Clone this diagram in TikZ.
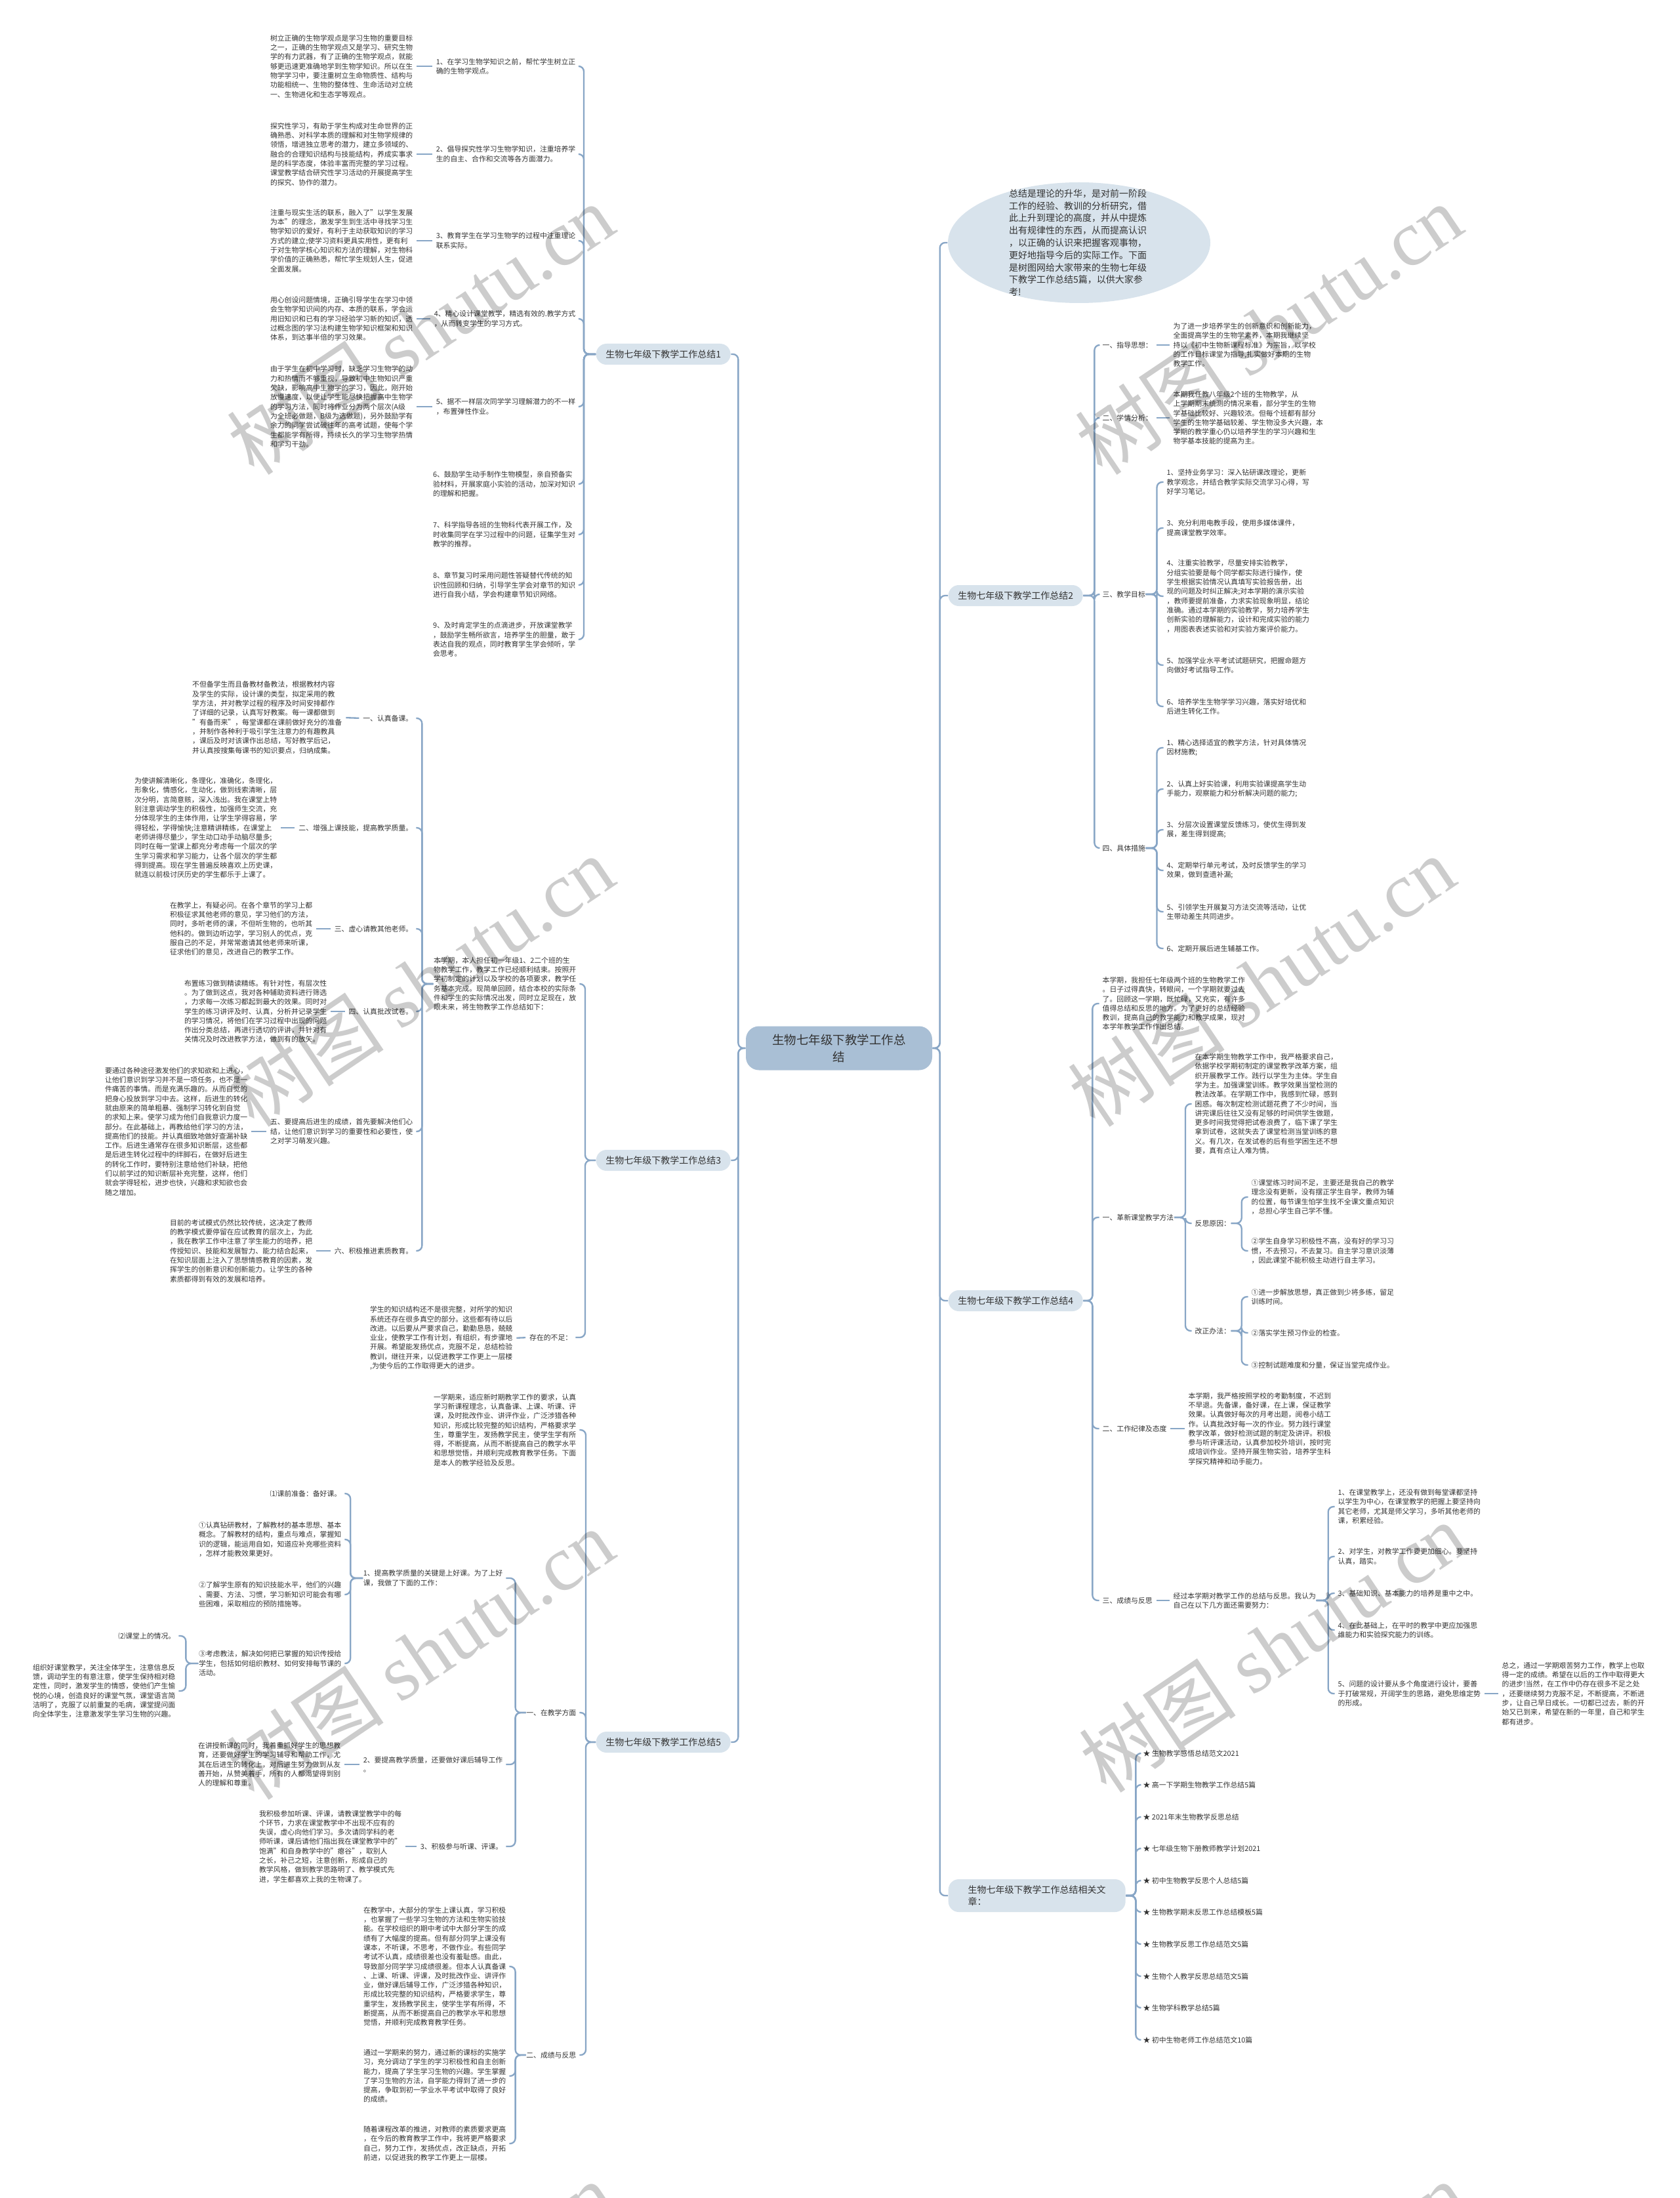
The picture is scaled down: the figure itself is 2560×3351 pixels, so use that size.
\documentclass[tikz,border=0pt]{standalone}
\usepackage{fontspec}
\setmainfont{Noto Sans CJK SC}
\newfontfamily\wmserif{Liberation Serif}
\usetikzlibrary{shapes.geometric}
\definecolor{linec}{HTML}{88A6C6}
\definecolor{nodefill}{HTML}{D8E3EC}
\definecolor{centerfill}{HTML}{A9BFD5}
\definecolor{txt}{HTML}{333333}
\newcommand\fleaf{\fontsize{3.26pt}{4.29pt}\selectfont}
\newcommand\fbranch{\fontsize{4.2pt}{5.6pt}\selectfont}
\newcommand\fcenter{\fontsize{5.55pt}{7.8pt}\selectfont}
\newcommand\fbubble{\fontsize{4.2pt}{5.64pt}\selectfont}
\newcommand\fwm{\fontsize{36pt}{40pt}\selectfont}
\tikzset{
  leaf/.style={inner sep=0pt, align=left, font=\fleaf, text=txt},
  conn/.style={draw=linec, line width=0.7pt, rounded corners=2.4pt},
  bconn/.style={conn, shorten >=1.3pt},
  dashc/.style={draw=linec, line width=0.7pt, shorten <=1.6pt, shorten >=1.6pt},
  branch/.style={fill=nodefill, rounded corners=4.8pt, minimum width=61.5pt, minimum height=9.6pt, inner sep=0pt, font=\fbranch, text=txt},
  centernode/.style={fill=centerfill, rounded corners=6pt, minimum width=85.2pt, minimum height=20.1pt, inner sep=0pt, font=\fcenter, text=txt, align=center},
  wm/.style={rotate=34, font=\fwm, text=black, text opacity=0.2, inner sep=0pt}
}
\begin{document}
\begin{tikzpicture}[x=0.3pt,y=-0.3pt]
\useasboundingbox (0,0) rectangle (2560,3351);
\fill[white] (0,0) rectangle (2560,3351);

% ---------------- center ----------------
\node[centernode] (C) at (1279,1598) {生物七年级下教学工作总\\结};

% ---------------- branch 1 ----------------
\node[branch,anchor=west] (B1) at (908,540) {生物七年级下教学工作总结1};
\node[leaf,anchor=east] (a1) at (878,101) {1、在学习生物学知识之前，帮忙学生树立正\\确的生物学观点。};
\node[leaf,anchor=east] (a2) at (878,235) {2、倡导探究性学习生物学知识，注重培养学\\生的自主、合作和交流等各方面潜力。};
\node[leaf,anchor=east] (a3) at (878,367) {3、教育学生在学习生物学的过程中注重理论\\联系实际。};
\node[leaf,anchor=east] (a4) at (878,486) {4、精心设计课堂教学，精选有效的.教学方式\\，从而转变学生的学习方式。};
\node[leaf,anchor=east] (a5) at (878,620) {5、据不一样层次同学学习理解潜力的不一样\\，布置弹性作业。};
\node[leaf,anchor=east] (a6) at (878,738) {6、鼓励学生动手制作生物模型，亲自预备实\\验材料，开展家庭小实验的活动，加深对知识\\的理解和把握。};
\node[leaf,anchor=east] (a7) at (878,815) {7、科学指导各班的生物科代表开展工作，及\\时收集同学在学习过程中的问题，征集学生对\\教学的推荐。};
\node[leaf,anchor=east] (a8) at (878,892) {8、章节复习时采用问题性答疑替代传统的知\\识性回顾和归纳，引导学生学会对章节的知识\\进行自我小结，学会构建章节知识网络。};
\node[leaf,anchor=east] (a9) at (878,975) {9、及时肯定学生的点滴进步，开放课堂教学\\，鼓励学生畅所欲言，培养学生的胆量，敢于\\表达自我的观点，同时教育学生学会倾听，学\\会思考。};
\node[leaf,anchor=east] (l1) at (630,101) {树立正确的生物学观点是学习生物的重要目标\\之一，正确的生物学观点又是学习、研究生物\\学的有力武器，有了正确的生物学观点，就能\\够更迅速更准确地学到生物学知识。所以在生\\物学学习中，要注重树立生命物质性、结构与\\功能相统一、生物的整体性、生命活动对立统\\一、生物进化和生态学等观点。};
\node[leaf,anchor=east] (l2) at (630,235) {探究性学习，有助于学生构成对生命世界的正\\确熟悉、对科学本质的理解和对生物学规律的\\领悟，增进独立思考的潜力，建立多领域的、\\融合的合理知识结构与技能结构，养成实事求\\是的科学态度，体验丰富而完整的学习过程。\\课堂教学结合研究性学习活动的开展提高学生\\的探究、协作的潜力。};
\node[leaf,anchor=east] (l3) at (630,367) {注重与现实生活的联系，融入了"以学生发展\\为本"的理念，激发学生到生活中寻找学习生\\物学知识的爱好，有利于主动获取知识的学习\\方式的建立;使学习资料更具实用性，更有利\\于对生物学核心知识和方法的理解，对生物科\\学价值的正确熟悉，帮忙学生规划人生，促进\\全面发展。};
\node[leaf,anchor=east] (l4) at (630,486) {用心创设问题情境，正确引导学生在学习中领\\会生物学知识间的内存、本质的联系，学会运\\用旧知识和已有的学习经验学习新的知识，透\\过概念图的学习法构建生物学知识框架和知识\\体系，到达事半倍的学习效果。};
\node[leaf,anchor=east] (l5) at (630,620) {由于学生在初中学习时，缺乏学习生物学的动\\力和热情而不够重视，导致初中生物知识严重\\欠缺，影响高中生物学的学习，因此，刚开始\\放慢速度，以便让学生能尽快把握高中生物学\\的学习方法，同时将作业分为两个层次(A级\\为全班必做题，B级为选做题)，另外鼓励学有\\余力的同学尝试破往年的高考试题，使每个学\\生都能学有所得，持续长久的学习生物学热情\\和学习干劲。};
\foreach \k in {1,...,9} {\draw[bconn] (B1.west) -- ++(-18,0) |- (a\k.east);}
\foreach \k in {1,...,5} {\draw[dashc] (a\k.west) -- (l\k.east);}

% ---------------- branch 3 ----------------
\node[branch,anchor=west] (B3) at (908,1769) {生物七年级下教学工作总结3};
\node[leaf,anchor=east] (b3i) at (879,1500) {本学期，本人担任初一年级1、2二个班的生\\物教学工作，教学工作已经顺利结束。按照开\\学初制定的计划以及学校的各项要求，教学任\\务基本完成。现简单回顾，结合本校的实际条\\件和学生的实际情况出发，同时立足现在，放\\眼未来，将生物教学工作总结如下：};
\node[leaf,anchor=east] (b3z) at (873,2039) {存在的不足：};
\node[leaf,anchor=east] (b3zl) at (782,2040) {学生的知识结构还不是很完整，对所学的知识\\系统还存在很多真空的部分。这些都有待以后\\改进。以后要从严要求自己，勤勤恳恳，兢兢\\业业，使教学工作有计划，有组织，有步骤地\\开展。希望能发扬优点，克服不足，总结检验\\教训，继往开来，以促进教学工作更上一层楼\\,为使今后的工作取得更大的进步。};
\draw[bconn] (B3.west) -- ++(-16,0) |- (b3i.east);
\draw[bconn] (B3.west) -- ++(-16,0) |- (b3z.east);
\draw[dashc] (b3z.west) -- (b3zl.east);

\node[leaf,anchor=east] (s1) at (630,1095) {一、认真备课。};
\node[leaf,anchor=east] (s2) at (630,1262) {二、增强上课技能，提高教学质量。};
\node[leaf,anchor=east] (s3) at (630,1416) {三、虚心请教其他老师。};
\node[leaf,anchor=east] (s4) at (630,1542) {四、认真批改试卷。};
\node[leaf,anchor=east] (s5) at (630,1725) {五、要提高后进生的成绩，首先要解决他们心\\结，让他们意识到学习的重要性和必要性，使\\之对学习萌发兴趣。};
\node[leaf,anchor=east] (s6) at (630,1907) {六、积极推进素质教育。};
\foreach \k in {1,...,6} {\draw[bconn] (b3i.west) -- ++(-17,0) |- (s\k.east);}

\node[leaf,anchor=east] (m1) at (522,1094) {不但备学生而且备教材备教法，根据教材内容\\及学生的实际，设计课的类型，拟定采用的教\\学方法，并对教学过程的程序及时间安排都作\\了详细的记录，认真写好教案。每一课都做到\\"有备而来"，每堂课都在课前做好充分的准备\\，并制作各种利于吸引学生注意力的有趣教具\\，课后及时对该课作出总结，写好教学后记，\\并认真按搜集每课书的知识要点，归纳成集。};
\node[leaf,anchor=east] (m2) at (423,1262) {为使讲解清晰化，条理化，准确化，条理化，\\形象化，情感化，生动化，做到线索清晰，层\\次分明，言简意赅，深入浅出。我在课堂上特\\别注意调动学生的积极性，加强师生交流，充\\分体现学生的主体作用，让学生学得容易，学\\得轻松，学得愉快;注意精讲精练，在课堂上\\老师讲得尽量少，学生动口动手动脑尽量多;\\同时在每一堂课上都充分考虑每一个层次的学\\生学习需求和学习能力，让各个层次的学生都\\得到提高。现在学生普遍反映喜欢上历史课，\\就连以前极讨厌历史的学生都乐于上课了。};
\node[leaf,anchor=east] (m3) at (477,1416) {在教学上，有疑必问。在各个章节的学习上都\\积极征求其他老师的意见，学习他们的方法，\\同时，多听老师的课，不但听生物的，也听其\\他科的。做到边听边学，学习别人的优点，克\\服自己的不足，并常常邀请其他老师来听课，\\征求他们的意见，改进自己的教学工作。};
\node[leaf,anchor=east] (m4) at (499,1542) {布置练习做到精读精练。有针对性，有层次性\\。为了做到这点，我对各种辅助资料进行筛选\\，力求每一次练习都起到最大的效果。同时对\\学生的练习讲评及时、认真，分析并记录学生\\的学习情况，将他们在学习过程中出现的问题\\作出分类总结，再进行透切的评讲，并针对有\\关情况及时改进教学方法，做到有的放矢。};
\node[leaf,anchor=east] (m5) at (378,1725) {要通过各种途径激发他们的求知欲和上进心，\\让他们意识到学习并不是一项任务，也不是一\\件痛苦的事情。而是充满乐趣的。从而自觉的\\把身心投放到学习中去。这样，后进生的转化\\就由原来的简单粗暴、强制学习转化到自觉\\的求知上来。使学习成为他们自我意识力度一\\部分。在此基础上，再教给他们学习的方法，\\提高他们的技能。并认真细致地做好查漏补缺\\工作。后进生通常存在很多知识断层，这些都\\是后进生转化过程中的绊脚石，在做好后进生\\的转化工作时，要特别注意给他们补缺，把他\\们以前学过的知识断层补充完整，这样，他们\\就会学得轻松，进步也快，兴趣和求知欲也会\\随之增加。};
\node[leaf,anchor=east] (m6) at (477,1907) {目前的考试模式仍然比较传统，这决定了教师\\的教学模式要停留在应试教育的层次上，为此\\，我在教学工作中注意了学生能力的培养，把\\传授知识、技能和发展智力、能力结合起来，\\在知识层面上注入了思想情感教育的因素，发\\挥学生的创新意识和创新能力。让学生的各种\\素质都得到有效的发展和培养。};
\foreach \k in {1,...,6} {\draw[dashc] (s\k.west) -- (m\k.east);}

% ---------------- branch 5 ----------------
\node[branch,anchor=west] (B5) at (908,2656) {生物七年级下教学工作总结5};
\node[leaf,anchor=east] (b5i) at (879,2180) {一学期来，适应新时期教学工作的要求，认真\\学习新课程理念，认真备课、上课、听课、评\\课，及时批改作业、讲评作业，广泛涉猎各种\\知识，形成比较完整的知识结构，严格要求学\\生，尊重学生，发扬教学民主，使学生学有所\\得，不断提高，从而不断提高自己的教学水平\\和思想觉悟，并顺利完成教育教学任务。下面\\是本人的教学经验及反思。};
\node[leaf,anchor=east] (b5a) at (879,2611) {一、在教学方面};
\node[leaf,anchor=east] (b5b) at (879,3133) {二、成绩与反思};
\draw[bconn] (B5.west) -- ++(-15,0) |- (b5i.east);
\draw[bconn] (B5.west) -- ++(-15,0) |- (b5a.east);
\draw[bconn] (B5.west) -- ++(-15,0) |- (b5b.east);

\node[leaf,anchor=east] (c1) at (767,2406) {1、提高教学质量的关键是上好课。为了上好\\课，我做了下面的工作：};
\node[leaf,anchor=east] (c2) at (767,2690) {2、要提高教学质量，还要做好课后辅导工作\\。};
\node[leaf,anchor=east] (c3) at (767,2815) {3、积极参与听课、评课。};
\foreach \k in {1,2,3} {\draw[bconn] (b5a.west) -- ++(-16,0) |- (c\k.east);}

\node[leaf,anchor=east] (k1) at (521,2277) {⑴课前准备：备好课。};
\node[leaf,anchor=east] (n1) at (521,2347) {①认真钻研教材，了解教材的基本思想、基本\\概念。了解教材的结构，重点与难点，掌握知\\识的逻辑，能运用自如，知道应补充哪些资料\\，怎样才能教效果更好。};
\node[leaf,anchor=east] (n2) at (521,2431) {②了解学生原有的知识技能水平，他们的兴趣\\、需要、方法、习惯，学习新知识可能会有哪\\些困难，采取相应的预防措施等。};
\node[leaf,anchor=east] (n3) at (521,2536) {③考虑教法，解决如何把已掌握的知识传授给\\学生，包括如何组织教材、如何安排每节课的\\活动。};
\foreach \nd in {k1,n1,n2,n3} {\draw[bconn] (c1.west) -- ++(-19,0) |- (\nd.east);}
\node[leaf,anchor=east] (k2) at (268,2494) {⑵课堂上的情况。};
\node[leaf,anchor=east] (zz) at (268,2578) {组织好课堂教学，关注全体学生，注意信息反\\馈，调动学生的有意注意，使学生保持相对稳\\定性，同时，激发学生的情感，使他们产生愉\\悦的心境，创造良好的课堂气氛，课堂语言简\\洁明了，克服了以前重复的毛病，课堂提问面\\向全体学生，注意激发学生学习生物的兴趣。};
\draw[bconn] (n3.west) -- ++(-19,0) |- (k2.east);
\draw[bconn] (n3.west) -- ++(-19,0) |- (zz.east);

\node[leaf,anchor=east] (c2l) at (520,2690) {在讲授新课的同时，我着重抓好学生的思想教\\育，还要做好学生的学习辅导和帮助工作，尤\\其在后进生的转化上，对后进生努力做到从友\\善开始，从赞美着手，所有的人都渴望得到别\\人的理解和尊重。};
\node[leaf,anchor=east] (c3l) at (613,2815) {我积极参加听课、评课，请教课堂教学中的每\\个环节，力求在课堂教学中不出现不应有的\\失误，虚心向他们学习。多次请同学科的老\\师听课，课后请他们指出我在课堂教学中的"\\饱满"和自身教学中的"瘪谷"，取别人\\之长，补己之短，注意创新，形成自己的\\教学风格，做到教学思路明了、教学模式先\\进，学生都喜欢上我的生物课了。};
\draw[dashc] (c2.west) -- (c2l.east);
\draw[dashc] (c3.west) -- (c3l.east);

\node[leaf,anchor=east] (pa) at (772,2998) {在教学中，大部分的学生上课认真，学习积极\\，也掌握了一些学习生物的方法和生物实验技\\能。在学校组织的期中考试中大部分学生的成\\绩有了大幅度的提高。但有部分同学上课没有\\课本，不听课，不思考，不做作业。有些同学\\考试不认真，成绩很差也没有羞耻感。由此，\\导致部分同学学习成绩很差。但本人认真备课\\、上课、听课、评课，及时批改作业、讲评作\\业，做好课后辅导工作，广泛涉猎各种知识，\\形成比较完整的知识结构，严格要求学生，尊\\重学生，发扬教学民主，使学生学有所得，不\\断提高，从而不断提高自己的教学水平和思想\\觉悟，并顺利完成教育教学任务。};
\node[leaf,anchor=east] (pb) at (772,3165) {通过一学期来的努力，通过新的课标的实施学\\习，充分调动了学生的学习积极性和自主创新\\能力，提高了学生学习生物的兴趣。学生掌握\\了学习生物的方法，自学能力得到了进一步的\\提高，争取到初一学业水平考试中取得了良好\\的成绩。};
\node[leaf,anchor=east] (pc) at (772,3268) {随着课程改革的推进，对教师的素质要求更高\\，在今后的教育教学工作中，我将更严格要求\\自己，努力工作，发扬优点，改正缺点，开拓\\前进，以促进我的教学工作更上一层楼。};
\foreach \nd in {pa,pb,pc} {\draw[bconn] (b5b.west) -- ++(-16,0) |- (\nd.east);}

% ---------------- center to left branches ----------------
\foreach \nd in {B1,B3,B5} {\draw[conn] (C.west) -- ++(-11,0) |- (\nd.east);}

% ---------------- summary bubble ----------------
\node[ellipse, fill=nodefill, minimum width=120pt, minimum height=55.2pt, inner sep=0pt] (SUM) at (1645,370) {};
\node[inner sep=0pt, align=left, font=\fbubble, text=txt] (SUMt) at (1643,370) {总结是理论的升华，是对前一阶段\\工作的经验、教训的分析研究，借\\此上升到理论的高度，并从中提炼\\出有规律性的东西，从而提高认识\\，以正确的认识来把握客观事物，\\更好地指导今后的实际工作。下面\\是树图网给大家带来的生物七年级\\下教学工作总结5篇，以供大家参\\考!};

% ---------------- branch 2 ----------------
\node[branch,anchor=west] (B2) at (1445,908) {生物七年级下教学工作总结2};
\node[leaf,anchor=west] (g1) at (1680,526) {一、指导思想：};
\node[leaf,anchor=west] (g2) at (1680,637) {二、学情分析：};
\node[leaf,anchor=west] (g3) at (1680,906) {三、教学目标};
\node[leaf,anchor=west] (g4) at (1680,1293) {四、具体措施};
\foreach \k in {1,...,4} {\draw[bconn] (B2.east) -- ++(17,0) |- (g\k.west);}
\node[leaf,anchor=west] (g1l) at (1788,526) {为了进一步培养学生的创新意识和创新能力，\\全面提高学生的生物学素养，本期我继续坚\\持以《初中生物新课程标准》为宗旨，以学校\\的工作目标课堂为指导,扎实做好本期的生物\\教学工作。};
\node[leaf,anchor=west] (g2l) at (1788,637) {本期我任教八年级2个班的生物教学，从\\上学期期末统测的情况来看，部分学生的生物\\学基础比较好、兴趣较浓。但每个班都有部分\\学生的生物学基础较差、学生物没多大兴趣，本\\学期的教学重心仍以培养学生的学习兴趣和生\\物学基本技能的提高为主。};
\draw[dashc] (g1.east) -- (g1l.west);
\draw[dashc] (g2.east) -- (g2l.west);
\node[leaf,anchor=west] (t1) at (1778,735) {1、坚持业务学习：深入钻研课改理论，更新\\教学观念，并结合教学实际交流学习心得，写\\好学习笔记。};
\node[leaf,anchor=west] (t3) at (1778,805) {3、充分利用电教手段，使用多媒体课件，\\提高课堂教学效率。};
\node[leaf,anchor=west] (t4) at (1778,909) {4、注重实验教学，尽量安排实验教学，\\分组实验要是每个同学都实际进行操作，使\\学生根据实验情况认真填写实验报告册，出\\现的问题及时纠正解决;对本学期的演示实验\\，教师要提前准备，力求实验现象明显，结论\\准确。通过本学期的实验教学，努力培养学生\\创新实验的理解能力，设计和完成实验的能力\\，用图表表述实验和对实验方案评价能力。};
\node[leaf,anchor=west] (t5) at (1778,1014) {5、加强学业水平考试试题研究，把握命题方\\向做好考试指导工作。};
\node[leaf,anchor=west] (t6) at (1778,1077) {6、培养学生生物学学习兴趣，落实好培优和\\后进生转化工作。};
\foreach \nd in {t1,t3,t4,t5,t6} {\draw[bconn] (g3.east) -- ++(17,0) |- (\nd.west);}
\node[leaf,anchor=west] (u1) at (1778,1140) {1、精心选择适宜的教学方法，针对具体情况\\因材施教;};
\node[leaf,anchor=west] (u2) at (1778,1203) {2、认真上好实验课，利用实验课提高学生动\\手能力，观察能力和分析解决问题的能力;};
\node[leaf,anchor=west] (u3) at (1778,1265) {3、分层次设置课堂反馈练习，使优生得到发\\展，差生得到提高;};
\node[leaf,anchor=west] (u4) at (1778,1327) {4、定期举行单元考试，及时反馈学生的学习\\效果，做到查遗补漏;};
\node[leaf,anchor=west] (u5) at (1778,1390) {5、引领学生开展复习方法交流等活动，让优\\生带动差生共同进步。};
\node[leaf,anchor=west] (u6) at (1778,1446) {6、定期开展后进生辅基工作。};
\foreach \k in {1,...,6} {\draw[bconn] (g4.east) -- ++(17,0) |- (u\k.west);}

% ---------------- branch 4 ----------------
\node[branch,anchor=west] (B4) at (1445,1983) {生物七年级下教学工作总结4};
\node[leaf,anchor=west] (i4) at (1680,1530) {本学期，我担任七年级两个班的生物教学工作\\。日子过得真快，转眼间，一个学期就要过去\\了。回顾这一学期，既忙碌，又充实，有许多\\值得总结和反思的地方。为了更好的总结经验\\教训，提高自己的教学能力和教学成果，现对\\本学年教学工作作出总结。};
\node[leaf,anchor=west] (r1) at (1680,1856) {一、革新课堂教学方法};
\node[leaf,anchor=west] (r2) at (1680,2178) {二、工作纪律及态度};
\node[leaf,anchor=west] (r3) at (1680,2440) {三、成绩与反思};
\foreach \nd in {i4,r1,r2,r3} {\draw[bconn] (B4.east) -- ++(14,0) |- (\nd.west);}
\node[leaf,anchor=west] (q1) at (1821,1683) {在本学期生物教学工作中，我严格要求自己，\\依据学校学期初制定的课堂教学改革方案，组\\织开展教学工作。践行以学生为主体。学生自\\学为主。加强课堂训练。教学效果当堂检测的\\教法改革。在学期工作中，我感到忙碌，感到\\困惑。每次制定检测试题花费了不少时间，当\\讲完课后往往又没有足够的时间供学生做题，\\更多时间我觉得把试卷浪费了，临下课了学生\\拿到试卷，这就失去了课堂检测当堂训练的意\\义。有几次，在发试卷的后有些学困生还不想\\要，真有点让人难为情。};
\node[leaf,anchor=west] (q2) at (1821,1865) {反思原因：};
\node[leaf,anchor=west] (q3) at (1821,2029) {改正办法：};
\foreach \nd in {q1,q2,q3} {\draw[bconn] (r1.east) -- ++(17,0) |- (\nd.west);}
\node[leaf,anchor=west] (w1) at (1907,1825) {①课堂练习时间不足，主要还是我自己的教学\\理念没有更新，没有摆正学生自学，教师为辅\\的位置，每节课生怕学生找不全课文重点知识\\，总担心学生自己学不懂。};
\node[leaf,anchor=west] (w2) at (1907,1907) {②学生自身学习积极性不高，没有好的学习习\\惯，不去预习，不去复习。自主学习意识淡薄\\，因此课堂不能积极主动进行自主学习。};
\foreach \nd in {w1,w2} {\draw[bconn] (q2.east) -- ++(16,0) |- (\nd.west);}
\node[leaf,anchor=west] (v1) at (1907,1977) {①进一步解放思想，真正做到少将多练，留足\\训练时间。};
\node[leaf,anchor=west] (v2) at (1907,2032) {②落实学生预习作业的检查。};
\node[leaf,anchor=west] (v3) at (1907,2081) {③控制试题难度和分量，保证当堂完成作业。};
\foreach \nd in {v1,v2,v3} {\draw[bconn] (q3.east) -- ++(16,0) |- (\nd.west);}
\node[leaf,anchor=west] (r2l) at (1811,2178) {本学期，我严格按照学校的考勤制度，不迟到\\不早退。先备课，备好课，在上课，保证教学\\效果。认真做好每次的月考出题，阅卷小结工\\作。认真批改好每一次的作业。努力践行课堂\\教学改革，做好检测试题的制定及讲评。积极\\参与听评课活动，认真参加校外培训，按时完\\成培训作业。坚持开展生物实验，培养学生科\\学探究精神和动手能力。};
\draw[dashc] (r2.east) -- (r2l.west);
\node[leaf,anchor=west] (r3p) at (1788,2440) {经过本学期对教学工作的总结与反思。我认为\\自己在以下几方面还需要努力：};
\draw[dashc] (r3.east) -- (r3p.west);
\node[leaf,anchor=west] (x1) at (2039,2297) {1、在课堂教学上，还没有做到每堂课都坚持\\以学生为中心，在课堂教学的把握上要坚持向\\其它老师，尤其是师父学习，多听其他老师的\\课，积累经验。};
\node[leaf,anchor=west] (x2) at (2039,2373) {2、对学生，对教学工作要更加细心。要坚持\\认真，踏实。};
\node[leaf,anchor=west] (x3) at (2039,2429) {3、基础知识、基本能力的培养是重中之中。};
\node[leaf,anchor=west] (x4) at (2039,2485) {4、在此基础上，在平时的教学中更应加强思\\维能力和实验探究能力的训练。};
\node[leaf,anchor=west] (x5) at (2039,2582) {5、问题的设计要从多个角度进行设计，要善\\于打破常规，开阔学生的思路，避免思维定势\\的形成。};
\foreach \k in {1,...,5} {\draw[bconn] (r3p.east) -- ++(18,0) |- (x\k.west);}
\node[leaf,anchor=west] (x5l) at (2289,2582) {总之，通过一学期艰苦努力工作，教学上也取\\得一定的成绩。希望在以后的工作中取得更大\\的进步!当然，在工作中仍存在很多不足之处\\，还要继续努力克服不足，不断提高，不断进\\步，让自己早日成长。一切都已过去，新的开\\始又已到来，希望在新的一年里，自己和学生\\都有进步。};
\draw[dashc] (x5.east) -- (x5l.west);

% ---------------- related ----------------
\node[branch,anchor=west,minimum width=81pt,minimum height=15pt,align=left] (REL) at (1445,2890) {生物七年级下教学工作总结相关文\\章：};
\node[leaf,anchor=west] (y1) at (1742,2673) {★ 生物教学感悟总结范文2021};
\node[leaf,anchor=west] (y2) at (1742,2721) {★ 高一下学期生物教学工作总结5篇};
\node[leaf,anchor=west] (y3) at (1742,2770) {★ 2021年末生物教学反思总结};
\node[leaf,anchor=west] (y4) at (1742,2818) {★ 七年级生物下册教师教学计划2021};
\node[leaf,anchor=west] (y5) at (1742,2867) {★ 初中生物教学反思个人总结5篇};
\node[leaf,anchor=west] (y6) at (1742,2915) {★ 生物教学期末反思工作总结模板5篇};
\node[leaf,anchor=west] (y7) at (1742,2964) {★ 生物教学反思工作总结范文5篇};
\node[leaf,anchor=west] (y8) at (1742,3013) {★ 生物个人教学反思总结范文5篇};
\node[leaf,anchor=west] (y9) at (1742,3061) {★ 生物学科教学总结5篇};
\node[leaf,anchor=west] (y10) at (1742,3110) {★ 初中生物老师工作总结范文10篇};
\foreach \k in {1,...,10} {\draw[bconn] (REL.east) -- ++(15,0) |- (y\k.west);}

% ---------------- center to right branches ----------------
\foreach \nd in {SUM,B2,B4,REL} {\draw[conn] (C.east) -- ++(11,0) |- (\nd.west);}

% ---------------- watermarks ----------------
\foreach \wx/\wy/\wn in {641/502/1, 1934/502/2, 641/1496/3, 1923/1496/4, 641/2522/5, 1940/2511/6, 641/3516/7, 1940/3516/8}
  {\node[wm] (wm\wn) at (\wx,\wy) {树图 {\wmserif shutu.cn}};}
\end{tikzpicture}
\end{document}
